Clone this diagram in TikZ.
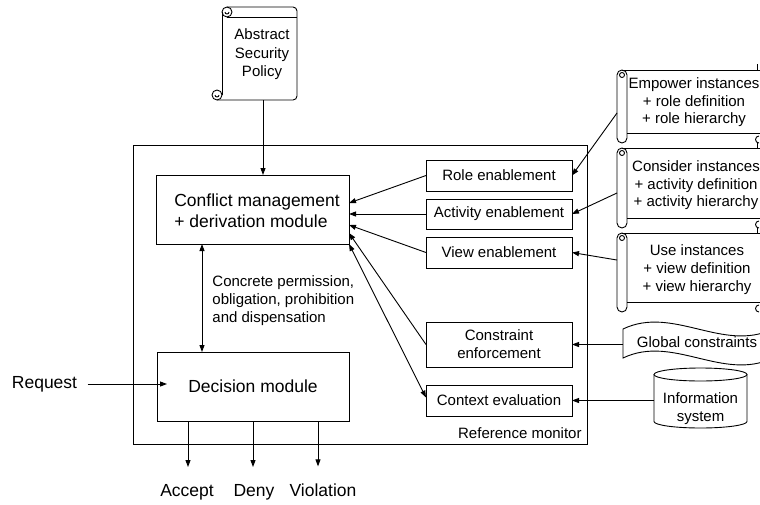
\documentclass[tikz,border=0pt]{standalone}
\usepackage{fontspec}
\setmainfont{Liberation Sans}
\usetikzlibrary{arrows.meta}
\newcommand\rightscroll[2]{%
  \draw (622,#1) -- (780,#1);
  \draw (617,{#1+5}) -- (617,{#2+5}) arc[start angle=180,end angle=0,radius=5] -- (627,{#1+5}) arc[start angle=0,end angle=-180,radius=5] -- cycle;
  \draw (622,{#1+5}) circle[radius=2.5];
  \draw (627,#2) -- (780,#2);
  \draw (759,{#2+10}) arc[start angle=90,end angle=270,radius=3.5];
  \draw (757,{#1-6}) -- (757,#1);
}
\begin{document}
\begin{tikzpicture}[x=1pt,y=-1pt, line width=0.9pt,
  arr/.style={-{Triangle[length=7pt,width=5pt]}},
  dbl/.style={{Triangle[length=7pt,width=5pt]}-{Triangle[length=7pt,width=5pt]}},
  box/.style={draw, inner sep=0pt, outer sep=0pt},
  txt/.style={font=\fontsize{15}{18}\selectfont, inner sep=0pt, align=center},
  bigtxt/.style={font=\fontsize{17.5}{21}\selectfont, inner sep=0pt, align=center}]
\useasboundingbox (0,0) rectangle (760,504);
\clip (0,0) rectangle (760,504);
\fill[white] (0,0) rectangle (760,504);

% Reference monitor
\node[box, minimum width=454pt, minimum height=299pt] (monitor) at (360,294.5) {};
\node[txt, anchor=east] (monlabel) at (582,433) {Reference monitor};

% Abstract security policy scroll
\draw (222,12) -- (222,95);
\draw (227,7) -- (293,7) arc[start angle=270,end angle=360,radius=4] -- (297,96) arc[start angle=0,end angle=90,radius=4] -- (217,100);
\draw (227,12) circle[radius=5];
\draw (229,12) arc[start angle=0,end angle=180,radius=2];
\draw (227,17) -- (297,17);
\draw (217,95) circle[radius=5];
\draw (219,95) arc[start angle=0,end angle=180,radius=2];
\node[txt, font=\fontsize{15}{18.5}\selectfont] (policy) at (262,54.5) {Abstract\\Security\\Policy};
\coordinate (policybot) at (263,100);

% Main modules
\node[box, minimum width=193pt, minimum height=69pt] (conflict) at (252.5,209.5) {};
\node[bigtxt, align=left] (ctext) at (257,210.5) {Conflict management\\+ derivation module};
\node[box, bigtxt, minimum width=192pt, minimum height=69pt] (decision) at (253,386.5) {Decision module};
\node[txt, align=left, anchor=west] (concrete) at (212,301) {Concrete permission,\\obligation, prohibition\\and dispensation};

% Right inner boxes
\node[box, txt, minimum width=146pt, minimum height=31pt] (role) at (499,175.5) {Role enablement};
\node[box, txt, minimum width=146pt, minimum height=30pt] (activity) at (499,214) {Activity enablement};
\node[box, txt, minimum width=146pt, minimum height=31pt] (view) at (499,252.5) {View enablement};
\node[box, txt, minimum width=146pt, minimum height=45pt] (constraint) at (499,344.5) {Constraint\\enforcement};
\node[box, txt, minimum width=146pt, minimum height=31pt] (context) at (499,400.5) {Context evaluation};

% External scrolls
\rightscroll{70}{133}
\rightscroll{148}{218}
\rightscroll{233}{302}
\node[txt, font=\fontsize{15}{17.5}\selectfont] (empower) at (694,102.5) {Empower instances\\+ role definition\\+ role hierarchy};
\node[txt, font=\fontsize{15}{17.5}\selectfont] (consider) at (696,185.5) {Consider instances\\+ activity definition\\+ activity hierarchy};
\node[txt, font=\fontsize{15}{18}\selectfont] (use) at (697,270) {Use instances\\+ view definition\\+ view hierarchy};
\coordinate (empowerpt) at (617,113);
\coordinate (considerpt) at (617,193);
\coordinate (usept) at (617,260);

% Global constraints tape
\draw (623,329) .. controls (673,305) and (723,353) .. (773,329) -- (773,358) .. controls (723,382) and (673,334) .. (623,358) -- cycle;
\node[txt] (global) at (697,342) {Global constraints};
\coordinate (tapept) at (623,344.5);

% Information system cylinder
\draw (654,374.5) -- (654,421.5) arc[start angle=180,end angle=0,x radius=46.5,y radius=6.5] -- (747,374.5);
\draw (700.5,374.5) ellipse[x radius=46.5,y radius=6.5];
\node[txt] (infosys) at (700.5,408.5) {Information\\system};
\coordinate (cylpt) at (654,400.5);

% Request and outputs
\node[bigtxt] (request) at (44.5,384) {Request};
\node[bigtxt, anchor=base] (accept) at (187,496) {Accept};
\node[bigtxt, anchor=base] (deny) at (254,496) {Deny};
\node[bigtxt, anchor=base] (violation) at (323,496) {Violation};

% Connectors
\draw[arr] (policybot) -- (policybot |- conflict.north);
\coordinate (dtop) at ([xshift=46pt]conflict.south west);
\draw[dbl] (dtop) -- (dtop |- decision.north);
\draw[arr] ([xshift=10pt]request.east) -- ([xshift=10pt]request.east -| decision.west);
\draw[arr] ([xshift=1pt]accept.north |- decision.south) -- ([xshift=1pt,yshift=16.5pt]accept.north);
\draw[arr] ([xshift=-1pt]deny.north |- decision.south) -- ([xshift=-1pt,yshift=16.5pt]deny.north);
\draw[arr] ([xshift=-5pt]violation.north |- decision.south) -- ([xshift=-5pt,yshift=16.5pt]violation.north);

\draw[arr] (role.west) -- ([yshift=6.5pt]conflict.east);
\draw[arr] (activity.west) -- (activity.west -| conflict.east);
\draw[arr] (view.west) -- ([yshift=-15.5pt]conflict.east);
\draw[arr] (constraint.west) -- ([yshift=-23.5pt]conflict.east);
\draw[dbl] (conflict.south east) -- ([yshift=3pt]context.west);

\draw[arr] (empowerpt) -- (role.east);
\draw[arr] (considerpt) -- (activity.east);
\draw[arr] (usept) -- (view.east);
\draw[arr] (tapept) -- (tapept -| constraint.east);
\draw[arr] (cylpt) -- (cylpt -| context.east);
\end{tikzpicture}
\end{document}
